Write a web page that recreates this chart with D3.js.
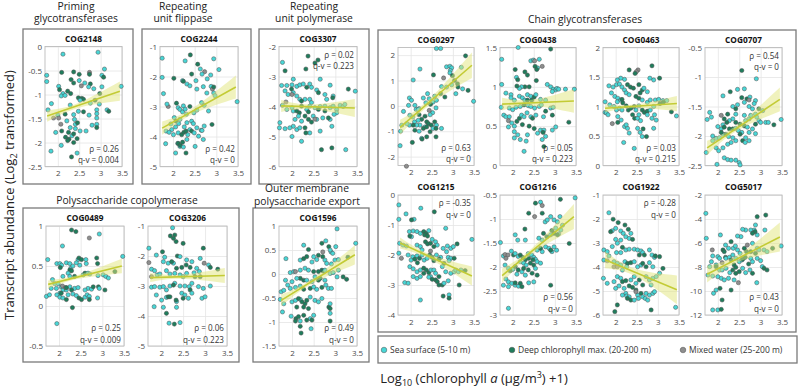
<!DOCTYPE html>
<html>
<head>
<meta charset="utf-8">
<script src="https://cdn.jsdelivr.net/npm/d3@7"></script>
<style>
  body { margin: 0; background: #fff; }
  text { font-family: "Open Sans", sans-serif; }
</style>
</head>
<body>
<div id="chart"></div>
<script>
// samples per panel: [log10(chl a + 1), log2 transcript abundance, layer]
// layer: 0 = sea surface, 1 = deep chlorophyll max., 2 = mixed water
const ptsCOG2148 = [[2.12,-0.16,0],[2.94,-0.12,0],[1.74,-0.6,0],[1.74,-0.73,0],[2.09,-0.54,1],[3.09,-0.47,0],[2.37,-0.53,1],[2.5,-0.58,1],[2.74,-0.54,2],[2.74,-0.58,1],[3.03,-0.6,0],[3.07,-0.64,1],[2.5,-0.71,0],[2.31,-0.69,1],[2.37,-0.76,1],[2.63,-0.76,0],[2.76,-0.78,1],[2.02,-0.83,0],[2.04,-0.9,1],[2.55,-0.82,2],[2.72,-0.84,0],[2.84,-0.88,0],[3.03,-0.84,0],[2.23,-0.93,1],[2.3,-0.98,1],[2.12,-0.98,0],[2.08,-1.03,0],[2.17,-1.02,0],[2.48,-1.07,1],[2.56,-1.08,1],[2.6,-1.1,1],[2.52,-1.12,0],[2.98,-0.98,1],[1.85,-1.19,0],[3.48,-0.83,0],[2.76,-1.18,0],[2.97,-1.2,0],[2.87,-1.12,1],[3.15,-1.32,0],[3.19,-1.35,1],[1.77,-1.32,0],[2.29,-1.22,0],[2.0,-1.43,0],[2.02,-1.49,2],[1.9,-1.49,2],[2.17,-1.41,1],[2.37,-1.42,0],[2.48,-1.35,0],[2.6,-1.36,1],[2.73,-1.43,0],[2.91,-1.32,0],[2.91,-1.4,0],[2.91,-1.49,0],[2.21,-1.55,0],[2.07,-1.62,2],[2.39,-1.52,0],[2.41,-1.62,0],[2.46,-1.59,1],[2.29,-1.69,0],[2.41,-1.71,0],[2.52,-1.76,0],[2.8,-1.64,0],[2.91,-1.62,0],[2.91,-1.69,1],[1.95,-1.79,0],[2.09,-1.76,1],[2.25,-1.79,1],[2.33,-1.86,0],[2.37,-1.82,1],[2.66,-1.76,0],[2.18,-1.89,1],[2.45,-1.92,1],[2.26,-1.93,1],[2.08,-2.06,0],[2.23,-1.96,1],[2.37,-2.0,1],[1.84,-2.18,0],[2.45,-2.22,0],[2.32,-2.3,1]];
const ptsCOG2244 = [[1.75,-1.39,0],[1.75,-2.03,0],[1.78,-2.57,0],[2.02,-2.06,1],[2.4,-1.28,1],[2.28,-1.48,0],[2.94,-1.41,0],[2.57,-1.59,1],[2.63,-1.75,0],[2.73,-1.84,2],[2.67,-1.92,0],[3.06,-1.77,0],[2.87,-1.95,0],[2.43,-1.92,1],[2.22,-2.14,0],[2.79,-2.08,0],[2.53,-2.14,0],[2.24,-2.16,1],[2.32,-2.25,0],[2.7,-2.34,0],[2.88,-2.33,0],[2.91,-2.42,2],[2.39,-2.31,0],[2.94,-2.35,1],[2.55,-2.42,0],[2.78,-2.55,0],[2.94,-2.55,0],[2.97,-2.64,0],[1.89,-3.0,2],[1.86,-2.92,0],[2.08,-2.89,1],[2.12,-3.04,0],[2.16,-3.1,0],[2.24,-2.98,0],[2.31,-3.26,0],[2.22,-3.18,0],[2.28,-3.09,0],[2.39,-3.0,1],[2.48,-3.21,0],[2.55,-3.12,0],[2.66,-2.87,0],[2.72,-2.96,0],[2.82,-3.15,0],[3.48,-2.84,0],[2.03,-3.37,0],[2.16,-3.43,0],[2.07,-3.49,1],[1.95,-3.58,0],[1.97,-3.77,0],[2.06,-3.68,0],[2.13,-3.57,0],[2.32,-3.54,0],[2.43,-3.49,0],[2.47,-3.57,0],[2.26,-3.68,0],[2.39,-3.77,0],[2.43,-3.82,1],[2.55,-3.71,0],[2.65,-3.79,0],[2.72,-3.65,0],[2.9,-3.6,1],[1.84,-3.82,0],[1.91,-3.86,0],[2.01,-3.94,0],[2.12,-3.88,0],[2.2,-3.94,1],[2.25,-3.86,1],[2.34,-3.94,0],[2.3,-3.82,1],[2.49,-3.88,0],[2.59,-3.99,0],[2.67,-3.8,0],[2.32,-4.1,0],[1.83,-4.24,0],[2.11,-4.23,0],[2.16,-4.33,0],[2.12,-4.23,1],[2.17,-4.3,1],[2.24,-4.35,0],[2.22,-4.19,1],[2.51,-4.33,0],[2.3,-4.55,1],[2.06,-4.55,0],[2.7,-4.1,0]];
const ptsCOG3307 = [[1.78,-2.53,0],[2.37,-2.32,1],[2.32,-2.75,1],[1.84,-2.81,1],[2.03,-3.09,0],[1.88,-3.3,0],[2.0,-3.28,0],[2.11,-3.33,0],[2.18,-3.28,0],[2.26,-3.25,0],[2.41,-3.25,0],[2.34,-3.36,1],[2.45,-3.36,0],[2.53,-2.55,1],[2.6,-2.45,1],[2.65,-3.09,0],[2.88,-3.29,0],[1.99,-3.42,1],[1.84,-3.48,0],[1.91,-3.6,0],[2.03,-3.54,0],[2.11,-3.65,0],[2.0,-3.6,2],[1.76,-3.3,0],[2.57,-3.45,0],[2.61,-3.54,1],[2.76,-3.6,0],[2.95,-3.65,0],[2.94,-3.71,1],[2.8,-3.76,0],[2.18,-3.76,0],[2.3,-3.76,0],[2.41,-3.76,0],[2.22,-3.82,1],[2.45,-3.87,0],[3.46,-3.49,0],[3.3,-3.42,1],[1.86,-3.85,2],[1.78,-3.96,0],[1.88,-4.1,0],[2.0,-4.04,0],[2.03,-4.15,0],[2.11,-4.15,1],[2.17,-4.21,1],[2.22,-3.99,1],[2.34,-4.1,0],[2.41,-3.99,0],[2.38,-4.18,1],[2.53,-4.04,0],[2.65,-4.0,0],[2.61,-4.1,1],[2.76,-3.99,0],[2.88,-4.04,0],[2.76,-4.15,1],[2.95,-3.99,0],[3.03,-4.1,0],[3.11,-3.96,0],[3.18,-4.0,0],[3.03,-4.21,0],[3.22,-3.93,0],[2.3,-4.32,1],[2.38,-4.43,1],[2.45,-4.52,1],[2.15,-4.32,0],[2.07,-4.43,0],[2.22,-4.49,0],[2.03,-4.66,0],[2.49,-4.32,0],[2.57,-4.43,0],[2.53,-4.42,2],[2.71,-4.38,0],[2.88,-4.43,0],[2.97,-4.26,0],[2.84,-4.38,1],[2.92,-4.66,0],[1.72,-4.54,0],[1.71,-4.71,0],[1.84,-4.74,0],[1.95,-4.71,0],[2.11,-4.77,0],[2.18,-4.71,0],[2.3,-4.71,1],[2.41,-4.88,0],[2.32,-4.88,1],[2.0,-5.0,0],[2.65,-4.82,0],[2.22,-5.16,0],[2.68,-5.44,1],[2.92,-5.38,1],[3.24,-5.44,0]];
const ptsCOG0489 = [[1.74,0.58,0],[2.08,0.75,0],[2.29,0.95,1],[2.39,0.93,1],[2.7,0.85,2],[2.93,0.9,0],[1.95,0.53,0],[2.02,0.53,0],[2.06,0.51,0],[2.17,0.54,0],[2.25,0.53,0],[2.03,0.48,1],[2.27,0.47,0],[2.32,0.5,0],[2.25,0.45,1],[2.29,0.44,1],[2.44,0.58,0],[2.4,0.54,0],[2.48,0.51,0],[2.46,0.6,1],[2.52,0.58,1],[2.62,0.58,0],[2.63,0.53,0],[2.21,0.41,0],[2.25,0.37,0],[2.36,0.37,1],[2.09,0.37,0],[2.56,0.39,0],[2.6,0.41,1],[2.67,0.41,0],[2.71,0.4,0],[2.87,0.6,1],[2.89,0.53,1],[2.9,0.38,0],[3.02,0.39,0],[3.08,0.37,0],[3.14,0.35,0],[3.29,0.43,1],[3.47,0.62,0],[1.85,0.33,0],[1.9,0.28,0],[1.98,0.28,0],[1.82,0.22,0],[1.94,0.22,0],[2.05,0.24,0],[2.09,0.2,0],[2.17,0.2,0],[2.02,0.16,0],[2.08,0.25,2],[2.15,0.23,2],[2.25,0.24,0],[2.36,0.22,0],[2.44,0.23,0],[2.17,0.23,1],[2.29,0.2,1],[2.67,0.22,0],[2.6,0.2,0],[2.75,0.21,0],[2.79,0.24,1],[2.91,0.24,1],[2.93,0.22,0],[3.06,0.2,1],[1.71,0.12,0],[1.78,0.14,0],[1.95,0.14,0],[2.02,0.11,0],[2.09,0.1,0],[2.21,0.14,0],[2.05,0.16,1],[2.17,0.08,1],[2.32,0.15,0],[2.4,0.13,0],[2.46,0.1,1],[2.52,0.08,1],[2.6,0.11,0],[2.65,0.14,0],[2.7,0.12,0],[2.7,0.08,1],[2.89,0.1,0],[2.31,-0.02,1],[1.95,-0.22,0]];
const ptsCOG3206 = [[1.72,-1.74,0],[2.26,-1.06,0],[2.21,-1.33,1],[2.31,-1.3,1],[2.28,-1.41,1],[2.34,-1.52,1],[2.03,-1.86,1],[2.5,-1.58,1],[1.89,-1.97,0],[2.08,-2.04,0],[1.72,-2.22,2],[2.37,-2.0,1],[2.43,-2.02,0],[2.05,-2.19,0],[2.16,-2.24,0],[2.28,-2.24,0],[2.24,-2.19,1],[2.58,-2.13,0],[2.7,-2.19,0],[2.57,-2.3,1],[2.66,-2.38,1],[2.89,-2.08,0],[2.96,-1.74,1],[3.08,-2.3,0],[3.12,-2.38,1],[2.81,-2.41,0],[2.87,-2.52,0],[2.75,-2.56,0],[2.98,-2.24,2],[1.78,-2.44,0],[1.85,-2.49,0],[1.91,-2.63,0],[1.97,-2.6,0],[1.78,-2.69,2],[2.12,-2.49,0],[2.2,-2.6,0],[2.31,-2.58,0],[2.35,-2.41,1],[2.47,-2.38,1],[2.43,-2.63,0],[2.5,-2.69,0],[2.58,-2.58,0],[2.77,-2.69,1],[2.89,-2.69,1],[3.29,-2.44,1],[1.78,-3.04,0],[1.85,-3.02,0],[1.97,-3.04,0],[2.05,-3.02,0],[2.12,-3.13,0],[2.2,-3.0,0],[2.31,-2.91,0],[2.43,-3.0,0],[2.28,-2.97,1],[2.54,-3.0,0],[2.64,-3.02,0],[2.7,-2.91,0],[2.66,-3.13,1],[2.85,-3.02,0],[2.96,-3.08,0],[3.12,-3.0,0],[1.89,-3.3,0],[2.01,-3.47,0],[2.12,-3.38,0],[2.16,-3.36,1],[2.2,-3.36,1],[2.35,-3.52,0],[2.35,-3.71,0],[2.34,-3.47,1],[2.47,-3.24,0],[2.54,-3.3,0],[2.5,-3.41,1],[2.62,-3.41,0],[2.7,-3.24,0],[2.93,-3.41,0],[3.0,-3.36,0],[1.84,-3.69,0],[2.05,-3.71,0],[2.12,-3.91,1],[2.18,-4.24,0],[2.3,-4.27,1],[2.43,-4.22,0]];
const ptsCOG1596 = [[3.04,0.94,0],[1.86,0.32,0],[2.27,0.6,0],[2.38,0.51,1],[2.69,0.64,1],[2.78,0.69,0],[2.71,0.46,2],[2.9,0.46,0],[2.94,0.43,0],[2.85,0.57,1],[3.01,0.57,0],[2.88,0.5,0],[3.47,0.64,0],[3.29,0.35,1],[2.19,0.29,0],[2.27,0.32,1],[2.34,0.36,1],[2.46,0.25,0],[2.5,0.36,0],[2.57,0.3,0],[2.61,0.39,1],[2.71,0.36,1],[2.76,0.29,0],[2.8,0.22,0],[2.91,0.21,0],[2.99,0.29,0],[3.07,0.3,0],[1.96,0.03,0],[2.04,0.05,0],[2.08,0.05,2],[2.19,0.08,0],[2.3,0.12,0],[2.38,0.08,0],[2.5,0.05,1],[2.61,0.05,1],[2.69,0.08,1],[2.72,0.06,1],[2.76,0.08,0],[2.88,0.01,0],[2.95,0.03,0],[3.07,0.08,0],[3.04,-0.06,0],[3.18,-0.06,1],[3.26,-0.11,1],[2.19,-0.09,1],[2.27,-0.13,1],[1.85,-0.13,0],[1.9,-0.23,0],[2.0,-0.16,0],[2.11,-0.09,0],[2.34,-0.13,0],[2.46,-0.16,0],[2.53,-0.06,0],[2.61,-0.13,1],[2.65,-0.09,1],[2.76,-0.13,0],[2.78,-0.23,0],[1.75,-0.37,0],[1.81,-0.34,0],[1.96,-0.3,0],[2.08,-0.28,0],[2.19,-0.25,0],[2.27,-0.32,1],[2.42,-0.3,1],[2.5,-0.27,0],[2.57,-0.32,0],[2.69,-0.28,1],[2.84,-0.3,0],[2.91,-0.3,0],[1.73,-0.53,0],[1.81,-0.62,0],[2.0,-0.58,0],[2.08,-0.55,0],[2.19,-0.53,0],[2.15,-0.51,1],[2.23,-0.58,1],[2.3,-0.62,1],[2.34,-0.55,1],[2.42,-0.48,0],[2.53,-0.55,0],[2.61,-0.58,0],[2.11,-0.69,1],[2.27,-0.69,1],[2.38,-0.72,1],[2.69,-0.51,0],[1.78,-0.79,0],[1.98,-0.88,0],[2.09,-0.93,1],[2.15,-0.89,1],[2.27,-0.86,1],[2.42,-0.93,0],[2.5,-0.86,0],[2.34,-0.96,1],[2.46,-0.96,1],[2.85,-0.69,1],[2.88,-0.72,1],[2.88,-0.62,0],[2.88,-0.82,0],[2.88,-0.98,1],[2.08,-0.98,1],[2.19,-0.98,0],[2.19,-1.09,1],[2.21,-1.23,1],[2.44,-1.14,0]];
const ptsCOG0297 = [[2.61,2.26,0],[2.71,2.26,0],[3.3,1.97,1],[2.22,1.45,0],[2.06,1.02,0],[2.54,1.22,1],[2.78,1.1,2],[2.85,1.54,0],[2.93,1.56,0],[2.97,1.5,0],[2.94,1.39,0],[2.93,1.3,0],[2.99,1.19,1],[3.2,1.52,0],[2.73,0.76,0],[2.85,0.74,0],[2.97,0.83,0],[3.04,1.0,1],[3.11,0.87,1],[3.12,0.74,1],[3.07,0.48,0],[3.36,0.61,1],[3.23,0.67,0],[3.49,0.18,0],[1.97,0.31,0],[2.02,0.22,0],[2.1,0.02,0],[2.2,-0.11,0],[2.13,-0.14,0],[2.18,-0.14,0],[2.3,0.31,0],[2.4,0.48,0],[2.36,0.12,0],[2.44,0.28,0],[2.53,0.15,0],[2.61,0.22,0],[2.57,0.38,0],[2.47,0.06,1],[2.71,0.48,1],[2.81,0.35,1],[2.6,-0.08,0],[2.52,-0.27,0],[2.46,-0.35,0],[2.44,-0.18,2],[1.95,0.02,0],[1.83,-0.22,0],[1.98,-0.37,0],[2.05,-0.44,0],[2.09,-0.63,0],[1.97,-0.76,0],[1.91,-0.7,0],[1.79,-0.76,0],[1.76,-1.0,0],[2.2,-0.35,1],[2.26,-0.53,1],[2.34,-0.41,1],[2.38,-0.63,1],[2.42,-0.7,1],[2.49,-0.76,1],[2.57,-0.63,1],[2.18,-0.57,0],[2.22,-0.76,0],[2.14,-0.76,0],[2.06,-0.76,1],[2.1,-0.96,1],[2.34,-0.83,0],[2.53,-0.89,0],[2.61,-0.76,0],[2.3,-0.89,1],[2.38,-0.83,1],[2.46,-1.02,1],[2.6,-0.89,1],[1.75,-1.57,0],[2.04,-1.44,1],[2.2,-1.0,0],[2.26,-1.28,0],[2.27,-1.31,1],[2.38,-1.22,1],[2.6,-1.22,1],[2.73,-0.89,0],[1.9,-2.38,2]];
const ptsCOG0438 = [[1.74,1.35,0],[2.13,1.5,0],[2.9,1.48,1],[2.43,1.33,0],[2.49,1.34,0],[2.52,1.33,2],[2.63,1.35,0],[2.06,1.22,1],[2.29,1.19,1],[2.35,1.15,1],[2.59,1.24,0],[2.53,1.26,1],[2.57,1.22,1],[2.7,1.26,2],[2.09,1.12,0],[2.12,1.09,1],[2.56,1.08,1],[2.39,1.0,1],[2.29,1.0,1],[2.21,1.0,0],[2.16,0.98,0],[2.1,1.01,1],[2.82,1.03,0],[2.9,1.0,0],[2.96,0.97,0],[3.02,0.96,0],[2.94,0.94,0],[3.05,0.98,0],[3.09,0.97,0],[3.25,0.97,0],[1.74,1.03,0],[1.84,0.92,0],[1.96,0.9,0],[1.96,0.86,0],[2.04,0.83,0],[2.16,0.88,0],[2.23,0.86,0],[2.29,0.83,0],[2.35,0.9,0],[2.43,0.88,0],[2.45,0.83,1],[2.51,0.87,1],[2.55,0.9,0],[2.66,0.84,0],[2.78,0.83,0],[3.46,0.97,0],[1.73,0.74,0],[1.92,0.73,0],[2.0,0.71,0],[2.08,0.74,0],[2.18,0.75,0],[2.27,0.77,1],[2.35,0.83,1],[2.37,0.76,0],[2.43,0.75,0],[2.52,0.73,0],[2.63,0.75,0],[2.68,0.77,0],[1.79,0.64,0],[1.84,0.62,0],[1.92,0.62,0],[1.9,0.57,2],[1.98,0.54,0],[2.04,0.5,0],[2.1,0.56,1],[2.16,0.6,1],[2.21,0.64,0],[2.27,0.62,0],[2.34,0.67,0],[2.43,0.62,0],[2.47,0.6,1],[2.55,0.64,0],[2.73,0.62,0],[2.78,0.69,1],[2.94,0.64,1],[2.9,0.73,0],[2.96,0.74,0],[2.04,0.43,0],[2.12,0.39,0],[1.9,0.49,0],[2.23,0.52,1],[2.39,0.5,1],[2.51,0.47,1],[2.35,0.39,0],[2.59,0.41,0],[2.66,0.45,0],[2.74,0.45,0],[2.78,0.37,0],[2.72,0.42,1],[2.94,0.45,0],[3.02,0.49,0],[3.33,0.55,1],[2.04,0.35,0],[2.18,0.33,0],[2.32,0.31,0],[2.7,0.33,0],[2.74,0.24,1],[2.27,0.18,0]];
const ptsCOG0463 = [[2.86,1.69,1],[2.32,1.62,1],[2.53,1.62,2],[2.49,1.59,2],[2.46,1.56,1],[2.21,1.46,0],[2.12,1.48,0],[2.04,1.45,0],[2.9,1.45,0],[2.81,1.48,0],[3.04,1.48,1],[1.84,1.35,0],[1.94,1.33,0],[2.02,1.37,0],[2.09,1.38,0],[2.15,1.33,0],[2.28,1.37,1],[2.35,1.33,1],[2.42,1.31,1],[2.21,1.28,0],[2.25,1.23,0],[2.32,1.2,0],[2.55,1.37,1],[2.63,1.28,1],[2.58,1.23,1],[2.67,1.31,0],[2.75,1.25,0],[2.48,1.17,1],[2.55,1.14,1],[1.9,1.23,0],[1.98,1.17,0],[2.05,1.14,0],[2.04,1.08,0],[2.12,1.11,0],[2.15,1.12,1],[2.17,1.06,1],[2.63,1.11,0],[2.75,1.07,0],[2.82,1.11,0],[2.94,1.11,0],[3.02,1.12,0],[3.12,1.1,0],[3.21,1.1,0],[3.05,1.05,1],[3.13,1.07,1],[1.75,1.08,0],[1.86,1.03,0],[1.75,0.9,0],[1.78,0.89,0],[1.82,0.86,0],[1.96,1.0,0],[2.02,0.94,0],[2.09,0.97,0],[2.15,0.94,0],[2.25,1.01,1],[2.3,0.94,1],[2.36,0.97,1],[2.44,1.0,1],[2.48,0.94,0],[2.55,1.01,0],[2.63,0.94,1],[2.68,0.9,1],[2.75,0.92,1],[2.82,0.94,0],[2.9,1.0,0],[3.32,0.91,1],[3.44,0.84,0],[2.05,0.83,0],[2.13,0.77,0],[2.05,0.73,1],[1.92,0.71,2],[2.21,0.66,0],[2.28,0.63,0],[2.25,0.69,0],[2.4,0.86,1],[2.45,0.8,1],[2.52,0.8,0],[2.55,0.86,0],[2.59,0.76,0],[2.75,0.86,0],[2.86,0.8,0],[2.92,0.86,0],[2.96,0.77,0],[2.32,0.55,0],[2.52,0.63,0],[2.65,0.62,1],[2.58,0.56,0],[2.63,0.49,0],[2.73,0.49,1],[2.9,0.63,0],[2.19,0.39,0],[2.44,0.29,0]];
const ptsCOG0707 = [[2.56,-0.89,1],[2.9,-1.03,0],[2.29,-1.25,1],[2.46,-1.21,0],[2.62,-1.2,0],[2.12,-1.32,0],[2.56,-1.35,1],[2.68,-1.37,1],[2.75,-1.34,0],[2.73,-1.39,2],[2.88,-1.4,0],[2.85,-1.45,0],[2.62,-1.43,0],[2.46,-1.47,0],[2.35,-1.5,0],[2.73,-1.5,0],[2.81,-1.54,0],[2.96,-1.54,1],[2.42,-1.54,1],[2.23,-1.63,1],[2.08,-1.65,2],[1.81,-1.6,0],[1.85,-1.68,0],[3.05,-1.57,0],[2.35,-1.71,0],[2.42,-1.63,0],[2.27,-1.74,0],[2.15,-1.71,1],[2.21,-1.77,1],[2.42,-1.77,1],[2.52,-1.8,1],[2.62,-1.65,0],[2.65,-1.74,0],[2.73,-1.71,0],[2.77,-1.65,0],[2.88,-1.63,0],[2.91,-1.68,0],[2.96,-1.74,0],[2.88,-1.8,1],[3.0,-1.77,0],[3.12,-1.77,0],[3.18,-1.77,0],[3.31,-1.81,1],[3.48,-1.72,0],[1.75,-1.72,0],[2.0,-1.84,0],[2.08,-1.88,0],[2.12,-1.81,0],[2.15,-1.85,1],[2.27,-1.88,1],[2.35,-1.88,1],[2.42,-1.87,0],[2.48,-1.91,0],[2.56,-1.94,0],[2.62,-1.83,1],[2.69,-1.85,0],[2.73,-1.94,0],[2.81,-1.88,0],[2.88,-1.96,0],[1.88,-2.0,0],[1.96,-2.04,0],[2.04,-2.03,0],[2.12,-1.97,0],[2.08,-1.94,1],[2.19,-1.97,1],[2.25,-2.01,0],[2.35,-2.03,0],[2.42,-2.08,0],[2.31,-2.11,0],[2.23,-2.14,0],[2.52,-1.97,1],[2.58,-2.08,1],[2.65,-2.03,0],[2.73,-2.08,0],[2.64,-2.11,0],[1.73,-2.28,0],[1.88,-2.08,0],[1.96,-2.2,0],[2.02,-2.25,0],[2.12,-2.2,0],[2.15,-2.37,0],[2.23,-2.4,0],[2.31,-2.41,0],[1.98,-2.48,0],[2.42,-2.41,0],[2.5,-2.45,0],[2.52,-2.49,0]];
const ptsCOG1215 = [[1.72,-0.33,0],[1.72,-0.81,0],[1.89,-0.63,0],[2.08,-0.81,0],[2.02,-0.83,1],[2.24,-0.44,0],[2.56,-0.56,1],[2.83,-1.11,0],[3.45,-1.48,0],[1.97,-1.22,0],[2.06,-1.2,0],[2.15,-1.22,0],[2.23,-1.28,0],[2.31,-1.22,1],[2.37,-1.28,1],[2.33,-1.33,1],[2.43,-1.19,0],[2.4,-1.37,1],[2.02,-1.39,0],[1.98,-1.37,1],[1.74,-1.61,0],[1.82,-1.67,0],[1.9,-1.7,0],[2.15,-1.67,0],[2.23,-1.72,0],[2.27,-1.83,0],[2.35,-1.56,1],[2.4,-1.63,1],[2.47,-1.61,1],[2.51,-1.48,0],[2.59,-1.56,0],[2.63,-1.67,0],[2.55,-1.72,1],[2.77,-1.78,0],[2.87,-1.7,0],[2.85,-1.89,0],[2.95,-1.78,0],[3.1,-1.63,1],[3.01,-1.72,0],[1.72,-1.94,0],[1.78,-2.11,2],[1.94,-2.0,0],[2.05,-2.06,0],[2.15,-2.03,0],[2.01,-2.17,0],[2.1,-2.14,1],[2.21,-2.11,1],[2.16,-2.26,1],[2.27,-2.0,0],[2.32,-2.17,0],[2.39,-2.11,0],[2.47,-1.87,2],[2.45,-2.0,1],[2.51,-2.08,1],[2.55,-2.19,1],[2.61,-2.0,0],[2.71,-2.08,0],[2.67,-2.14,1],[2.89,-2.08,0],[2.95,-2.11,0],[2.91,-2.19,0],[2.79,-2.28,1],[3.03,-2.11,1],[1.98,-2.39,0],[2.06,-2.46,0],[2.15,-2.56,0],[2.23,-2.5,0],[2.31,-2.44,1],[2.37,-2.5,1],[2.43,-2.59,1],[2.31,-2.61,1],[2.48,-2.5,0],[2.55,-2.5,0],[2.59,-2.61,0],[2.47,-2.72,0],[2.43,-2.74,0],[2.51,-2.81,1],[2.59,-2.83,1],[2.63,-2.89,1],[2.67,-2.72,1],[2.75,-2.39,0],[2.83,-2.56,0],[2.95,-2.61,0],[3.03,-2.56,0],[3.07,-2.5,0],[3.13,-2.56,0],[3.19,-2.5,0],[3.29,-2.52,1],[1.86,-2.92,0],[1.94,-2.94,0],[2.06,-2.72,0],[2.15,-2.78,0],[2.23,-2.72,0],[2.67,-3.0,1],[2.75,-3.0,1],[2.79,-2.94,0],[2.89,-2.86,0],[2.77,-3.37,1],[2.91,-3.33,0],[2.91,-3.44,1],[3.15,-3.0,1],[2.23,-3.5,0]];
const ptsCOG1216 = [[3.48,-0.56,0],[3.13,-0.59,1],[2.54,-0.67,1],[2.66,-0.65,0],[2.7,-0.72,2],[2.38,-0.88,1],[2.52,-0.95,2],[2.7,-0.88,1],[2.9,-0.95,0],[2.98,-1.02,0],[3.06,-1.06,0],[3.12,-0.95,0],[3.18,-1.13,0],[2.77,-1.06,0],[2.82,-1.02,0],[2.93,-1.24,1],[3.02,-1.19,0],[3.14,-1.23,0],[3.09,-1.31,0],[3.06,-1.33,1],[2.98,-1.3,1],[2.9,-1.33,0],[3.34,-1.51,1],[2.06,-1.33,0],[2.12,-1.44,0],[2.3,-1.44,0],[2.29,-1.21,1],[2.62,-1.4,0],[2.7,-1.44,0],[2.73,-1.3,1],[2.81,-1.37,1],[2.78,-1.58,0],[2.86,-1.61,0],[2.93,-1.68,0],[2.58,-1.65,0],[2.7,-1.68,0],[2.66,-1.61,1],[2.98,-1.58,0],[3.04,-1.65,0],[2.9,-1.65,1],[1.71,-1.49,0],[1.78,-1.77,0],[1.82,-1.74,2],[1.89,-1.75,2],[1.84,-1.82,2],[2.02,-1.75,1],[1.97,-1.67,0],[2.06,-1.72,0],[2.13,-1.78,0],[2.18,-1.75,1],[2.24,-1.8,1],[2.3,-1.85,1],[2.37,-1.72,0],[2.45,-1.75,0],[2.5,-1.8,0],[2.54,-1.84,0],[2.38,-1.82,1],[2.48,-1.85,1],[2.18,-1.89,0],[2.26,-1.92,0],[2.32,-1.96,0],[2.42,-1.92,1],[2.5,-1.96,1],[2.58,-1.89,0],[2.66,-1.92,0],[1.82,-1.96,0],[1.9,-2.03,0],[2.0,-2.05,0],[1.94,-2.08,1],[2.06,-1.99,1],[2.13,-2.06,1],[2.1,-2.15,0],[2.22,-2.1,0],[2.3,-2.17,0],[2.26,-2.03,1],[2.37,-2.06,1],[2.46,-2.13,1],[2.54,-2.03,0],[2.58,-2.17,1],[1.84,-2.25,0],[1.9,-2.31,0],[1.98,-2.34,0],[2.06,-2.38,0],[2.14,-2.4,0],[2.06,-2.33,1],[2.18,-2.34,1],[2.22,-2.41,1],[2.38,-2.33,0],[2.5,-2.31,0],[2.9,-2.38,1],[1.9,-2.41,0],[1.78,-2.38,0],[1.9,-2.86,0]];
const ptsCOG1922 = [[1.84,-1.74,0],[1.94,-2.01,1],[2.06,-2.15,1],[2.22,-2.25,1],[2.0,-2.39,0],[1.92,-2.49,0],[2.12,-2.5,0],[1.88,-2.53,1],[2.18,-2.6,0],[2.36,-2.6,0],[2.3,-2.43,1],[2.24,-2.74,0],[2.32,-2.81,0],[2.4,-2.85,1],[2.0,-2.85,0],[2.12,-2.88,0],[2.04,-3.01,0],[1.72,-3.29,0],[1.8,-3.36,0],[1.92,-3.15,0],[1.84,-3.54,0],[2.02,-3.4,0],[2.12,-3.4,0],[2.24,-3.29,0],[2.32,-3.26,0],[2.16,-3.18,1],[2.44,-3.26,0],[2.52,-3.29,0],[2.6,-3.33,0],[2.64,-3.4,0],[2.56,-3.5,1],[2.68,-3.5,1],[2.8,-3.29,0],[2.86,-3.5,0],[2.92,-3.6,0],[3.04,-3.57,1],[1.72,-3.71,0],[1.8,-3.74,2],[1.96,-3.78,0],[2.04,-3.85,0],[2.12,-3.92,0],[2.22,-3.78,0],[2.28,-3.85,1],[2.36,-3.82,1],[2.44,-3.78,0],[2.52,-3.99,0],[2.6,-3.92,0],[2.64,-3.85,1],[2.72,-3.99,1],[2.8,-3.82,0],[2.88,-3.99,0],[1.96,-3.99,2],[2.04,-3.99,2],[2.16,-4.13,0],[2.26,-3.99,0],[3.12,-4.06,1],[2.94,-3.54,1],[1.71,-4.47,0],[1.8,-4.68,0],[1.96,-4.61,0],[2.04,-4.4,0],[2.12,-4.47,0],[2.16,-4.61,1],[2.24,-4.57,1],[2.32,-4.79,1],[2.36,-4.54,0],[2.44,-4.4,0],[2.48,-4.68,0],[2.56,-4.54,1],[2.64,-4.75,1],[2.72,-4.4,0],[2.8,-4.54,0],[2.84,-4.75,0],[2.88,-4.47,0],[2.96,-4.4,0],[3.04,-4.26,0],[2.0,-4.89,0],[2.08,-4.79,0],[2.2,-4.89,0],[2.24,-5.1,0],[2.4,-4.85,1],[2.48,-4.96,1],[2.6,-5.1,1],[2.52,-5.17,0],[2.64,-5.24,0],[2.72,-5.1,0],[2.8,-5.17,0],[2.88,-5.1,0],[2.48,-5.03,2],[2.16,-5.17,0],[2.26,-5.21,0],[2.32,-5.24,0],[2.28,-5.31,1],[2.36,-5.38,1],[2.44,-5.38,0],[2.54,-5.31,0],[2.7,-5.31,0],[2.76,-5.38,0],[2.92,-5.03,0],[2.04,-5.58,1],[1.98,-5.86,1],[2.84,-5.79,1],[3.42,-5.68,0]];
const ptsCOG5017 = [[1.72,-3.53,0],[1.73,-5.61,0],[3.12,-3.67,1],[2.92,-3.81,1],[2.88,-4.5,0],[2.85,-4.92,0],[2.92,-5.33,0],[3.1,-4.92,0],[2.77,-4.92,0],[2.65,-4.92,0],[2.58,-4.86,0],[2.87,-5.06,1],[2.81,-5.19,1],[2.54,-5.47,0],[2.46,-5.42,0],[2.31,-5.89,1],[2.06,-5.33,0],[2.18,-6.17,0],[2.25,-6.44,0],[1.87,-6.58,2],[2.36,-6.44,0],[2.41,-6.25,0],[2.46,-6.58,0],[2.52,-6.86,0],[2.62,-6.44,1],[2.67,-6.72,1],[2.77,-6.72,1],[2.69,-6.17,2],[2.81,-6.03,0],[2.92,-6.44,0],[2.96,-6.58,0],[2.88,-6.86,1],[3.08,-6.58,0],[3.15,-6.72,0],[3.28,-6.44,1],[3.48,-6.25,0],[1.88,-7.08,0],[2.0,-7.14,0],[2.04,-7.28,0],[2.1,-7.64,2],[2.12,-6.58,1],[2.15,-6.72,1],[2.18,-7.19,1],[2.19,-7.28,0],[2.27,-7.19,0],[2.35,-7.0,0],[2.31,-7.42,1],[2.38,-7.83,1],[2.42,-8.03,1],[2.42,-7.28,0],[2.5,-7.56,0],[2.56,-7.42,0],[2.58,-7.36,1],[2.64,-7.19,1],[2.72,-7.75,1],[2.77,-7.28,0],[2.81,-7.56,0],[2.92,-7.28,0],[3.0,-7.47,0],[3.04,-7.97,0],[3.08,-8.11,1],[1.85,-7.56,0],[1.81,-7.97,0],[1.96,-7.83,0],[2.04,-8.25,0],[1.96,-7.97,1],[2.1,-8.25,0],[2.19,-8.11,0],[2.28,-8.47,0],[2.35,-8.25,1],[2.42,-8.53,1],[2.5,-8.39,1],[2.58,-8.11,0],[2.65,-8.47,0],[2.75,-8.25,0],[2.81,-8.53,1],[1.77,-8.67,0],[1.88,-8.75,0],[2.0,-8.81,0],[2.08,-8.94,0],[2.15,-9.08,0],[2.25,-8.94,0],[2.38,-9.08,0],[2.48,-9.31,2],[2.91,-9.31,0],[3.15,-8.25,1],[2.05,-9.78,1],[1.96,-9.92,0],[1.9,-10.19,0],[2.31,-9.92,1],[2.1,-10.75,1],[1.88,-11.58,0],[2.0,-11.58,0],[2.08,-11.53,1]];

const cogNames = ["COG2148","COG2244","COG3307","COG0297","COG0438","COG0463","COG0707",
                  "COG0489","COG3206","COG1596","COG1215","COG1216","COG1922","COG5017"];
const cogPoints = {COG2148: ptsCOG2148, COG2244: ptsCOG2244, COG3307: ptsCOG3307,
  COG0297: ptsCOG0297, COG0438: ptsCOG0438, COG0463: ptsCOG0463, COG0707: ptsCOG0707,
  COG0489: ptsCOG0489, COG3206: ptsCOG3206, COG1596: ptsCOG1596, COG1215: ptsCOG1215,
  COG1216: ptsCOG1216, COG1922: ptsCOG1922, COG5017: ptsCOG5017};

const xDomain = [1.7, 3.5];
const xTicks = [2, 2.5, 3, 3.5];
const yDomains = {COG2148:[-2.5,0], COG2244:[-5,-1], COG3307:[-6,-2], COG0297:[-2.35,2.3],
  COG0438:[0,1.5], COG0463:[0,2], COG0707:[-2.5,-0.5], COG0489:[-0.5,1], COG3206:[-5,-1],
  COG1596:[-1.5,1], COG1215:[-4,0], COG1216:[-3,-0.5], COG1922:[-6,-1], COG5017:[-12,-2]};
const yTicks = {COG2148:[0,-0.5,-1,-1.5,-2,-2.5], COG2244:[-1,-2,-3,-4,-5], COG3307:[-2,-3,-4,-5,-6],
  COG0297:[2,1,0,-1,-2], COG0438:[1.5,1,0.5,0], COG0463:[2,1.5,1,0.5,0], COG0707:[-0.5,-1,-1.5,-2,-2.5],
  COG0489:[1,0.5,0,-0.5], COG3206:[-1,-2,-3,-4,-5], COG1596:[1,0.5,0,-0.5,-1,-1.5],
  COG1215:[0,-1,-2,-3,-4], COG1216:[-0.5,-1,-1.5,-2,-2.5,-3], COG1922:[-1,-2,-3,-4,-5,-6],
  COG5017:[-2,-4,-6,-8,-10,-12]};

// fitted line: y at the two ends of fitX; band half-widths at bandX
const fitX = [1.75, 3.45];
const fitEnds = {COG2148:[-1.45,-0.93], COG2244:[-3.72,-2.35], COG3307:[-3.98,-4.05],
  COG0297:[-0.85,1.6], COG0438:[0.78,0.82], COG0463:[0.97,1.05], COG0707:[-2.2,-1.38],
  COG0489:[0.27,0.5], COG3206:[-2.72,-2.65], COG1596:[-0.55,0.4], COG1215:[-1.6,-2.7],
  COG1216:[-2.18,-0.95], COG1922:[-3.7,-4.95], COG5017:[-8.6,-5.5]};
const bandX = [1.75, 2.45, 3.45];
const bandHalf = {COG2148:[0.12,0.05,0.2], COG2244:[0.22,0.1,0.38], COG3307:[0.2,0.08,0.3],
  COG0297:[0.3,0.12,0.5], COG0438:[0.08,0.04,0.15], COG0463:[0.07,0.03,0.13], COG0707:[0.12,0.05,0.2],
  COG0489:[0.05,0.025,0.09], COG3206:[0.15,0.07,0.25], COG1596:[0.12,0.05,0.2], COG1215:[0.18,0.08,0.32],
  COG1216:[0.15,0.06,0.26], COG1922:[0.35,0.15,0.6], COG5017:[0.7,0.3,1.2]};

const rhoText = {COG2148:"0.26", COG2244:"0.42", COG3307:"0.02", COG0297:"0.63", COG0438:"0.05",
  COG0463:"0.03", COG0707:"0.54", COG0489:"0.25", COG3206:"0.06", COG1596:"0.49", COG1215:"-0.35",
  COG1216:"0.56", COG1922:"-0.28", COG5017:"0.43"};
const qvText = {COG2148:"0.004", COG2244:"0", COG3307:"0.223", COG0297:"0", COG0438:"0.223",
  COG0463:"0.215", COG0707:"0", COG0489:"0.009", COG3206:"0.223", COG1596:"0", COG1215:"0",
  COG1216:"0", COG1922:"0", COG5017:"0"};

const groupTitles = [["Priming","glycotransferases"],["Repeating","unit flippase"],["Repeating","unit polymerase"],
  ["Chain glycotransferases"],["Polysaccharide copolymerase"],["Outer membrane","polysaccharide export"]];
const layerNames = ["Sea surface (5-10 m)","Deep chlorophyll max. (20-200 m)","Mixed water (25-200 m)"];

// ---- layout ----
const width = 800, height = 389;
const layerColors = ["#48d6d6", "#1f7d5c", "#8e8e8e"];
const chainX = [398, 500, 603, 705];
const plotBox = {
  COG2148:{x:45, y:46.5,w:77,h:120,note:"bottom"},
  COG2244:{x:160,y:46.5,w:78,h:120,note:"bottom"},
  COG3307:{x:279,y:46.5,w:78,h:120,note:"top"},
  COG0297:{x:chainX[0],y:47.5,w:76,h:118,note:"bottom"},
  COG0438:{x:chainX[1],y:47.5,w:76,h:118,note:"bottom"},
  COG0463:{x:chainX[2],y:47.5,w:76,h:118,note:"bottom"},
  COG0707:{x:chainX[3],y:47.5,w:77,h:118,note:"top"},
  COG0489:{x:46, y:226,w:78,h:120,note:"bottom"},
  COG3206:{x:148,y:226,w:79,h:120,note:"bottom"},
  COG1596:{x:279,y:226,w:78,h:120,note:"bottom"},
  COG1215:{x:chainX[0],y:195,w:76,h:120,note:"top"},
  COG1216:{x:chainX[1],y:195,w:76,h:120,note:"bottom"},
  COG1922:{x:chainX[2],y:195,w:76,h:120,note:"top"},
  COG5017:{x:chainX[3],y:195,w:77,h:120,note:"bottom"}
};
const groupBoxes = [{x:23,y:29,w:110,h:155},{x:142,y:29,w:109,h:155},{x:259,y:29,w:110,h:155},
  {x:378,y:30,w:418,h:302},{x:23,y:208,w:216,h:154},{x:253,y:208,w:116,h:154}];
const groupTitlePos = [{x:76,y:9.5},{x:183,y:9.5},{x:314,y:9.5},{x:585,y:22.5},{x:127,y:204},{x:307,y:192}];
const legendX = [384, 512, 683];

const svg = d3.select("#chart").append("svg")
  .attr("width", width).attr("height", height)
  .attr("viewBox", [0, 0, width, height]);

// group boxes + titles
svg.selectAll("rect.group").data(groupBoxes).enter().append("rect")
  .attr("x", d => d.x).attr("y", d => d.y).attr("width", d => d.w).attr("height", d => d.h)
  .attr("fill", "none").attr("stroke", "#7a7a7a").attr("stroke-width", 1.3);

groupTitles.forEach((lines, i) => {
  const t = svg.append("text").attr("x", groupTitlePos[i].x).attr("y", groupTitlePos[i].y)
    .attr("text-anchor", "middle").attr("font-size", 10.3).attr("fill", "#222");
  lines.forEach((ln, j) => t.append("tspan").attr("x", groupTitlePos[i].x).attr("dy", j ? 12.8 : 0).text(ln));
});

// panels
cogNames.forEach(name => {
  const b = plotBox[name];
  const x = d3.scaleLinear().domain(xDomain).range([b.x, b.x + b.w]);
  const y = d3.scaleLinear().domain(yDomains[name]).range([b.y + b.h, b.y]);
  const fit = d3.scaleLinear().domain(fitX).range(fitEnds[name]);
  const g = svg.append("g");

  g.append("rect").attr("x", b.x).attr("y", b.y).attr("width", b.w).attr("height", b.h).attr("fill", "#fff");

  const xAxis = g.append("g")
    .attr("transform", `translate(0,${b.y + b.h})`)
    .call(d3.axisBottom(x).tickValues(xTicks).tickSizeInner(-b.h).tickSizeOuter(0).tickPadding(4).tickFormat(d => String(d)));
  const yAxis = g.append("g")
    .attr("transform", `translate(${b.x},0)`)
    .call(d3.axisLeft(y).tickValues(yTicks[name]).tickSizeInner(-b.w).tickSizeOuter(0).tickPadding(3).tickFormat(d => String(d)));
  [xAxis, yAxis].forEach(a => {
    a.select(".domain").remove();
    a.selectAll("line").attr("stroke", "#e4e4e4").attr("stroke-width", 0.8);
    a.selectAll("text").attr("fill", "#4a4a4a").attr("font-size", 8)
      .style("font-family", "'Open Sans', sans-serif");
  });

  g.append("rect").attr("x", b.x).attr("y", b.y).attr("width", b.w).attr("height", b.h)
    .attr("fill", "none").attr("stroke", "#bcbcbc").attr("stroke-width", 0.9);

  g.append("g").selectAll("circle").data(cogPoints[name]).enter().append("circle")
    .attr("cx", d => x(d[0])).attr("cy", d => y(d[1])).attr("r", 2.1)
    .attr("fill", d => layerColors[d[2]]).attr("stroke", "#4d4d4d").attr("stroke-width", 0.5);

  const band = d3.area().curve(d3.curveNatural)
    .x(d => x(d[0])).y0(d => y(fit(d[0]) - d[1])).y1(d => y(fit(d[0]) + d[1]));
  g.append("path").attr("d", band(bandX.map((bx, i) => [bx, bandHalf[name][i]])))
    .attr("fill", "#e2e67c").attr("fill-opacity", 0.5);

  g.append("path").attr("d", d3.line().x(d => x(d)).y(d => y(fit(d)))(fitX))
    .attr("stroke", "#c3cb35").attr("stroke-width", 1.6).attr("fill", "none");

  g.append("text").attr("x", b.x + b.w / 2).attr("y", b.y - 5).attr("text-anchor", "middle")
    .attr("font-size", 8.3).attr("font-weight", "bold").attr("fill", "#111").text(name);

  const ny = b.note === "top" ? [b.y + 11, b.y + 22.5] : [b.y + b.h - 15, b.y + b.h - 3.5];
  g.append("text").attr("x", b.x + b.w - 3).attr("y", ny[0]).attr("text-anchor", "end")
    .attr("font-size", 8.1).attr("fill", "#333").text("ρ = " + rhoText[name]);
  g.append("text").attr("x", b.x + b.w - 3).attr("y", ny[1]).attr("text-anchor", "end")
    .attr("font-size", 8.1).attr("fill", "#333").text("q-v = " + qvText[name]);
});

// legend
svg.append("rect").attr("x", 378).attr("y", 336).attr("width", 419).attr("height", 27)
  .attr("fill", "none").attr("stroke", "#7a7a7a").attr("stroke-width", 1.3);
layerNames.forEach((ln, i) => {
  svg.append("circle").attr("cx", legendX[i]).attr("cy", 350).attr("r", 2.8)
    .attr("fill", layerColors[i]).attr("stroke", "#4d4d4d").attr("stroke-width", 0.5);
  svg.append("text").attr("x", legendX[i] + 6).attr("y", 353).attr("font-size", 8.5)
    .attr("fill", "#333").text(ln);
});

// axis titles
const yl = svg.append("text").attr("transform", "translate(14,195) rotate(-90)")
  .attr("text-anchor", "middle").attr("font-size", 13).attr("fill", "#222");
yl.append("tspan").text("Transcript abundance (Log");
yl.append("tspan").attr("font-size", 9).attr("dy", 3).text("2");
yl.append("tspan").attr("dy", -3).text(" transformed)");

const xl = svg.append("text").attr("x", 474).attr("y", 383)
  .attr("text-anchor", "middle").attr("font-size", 13).attr("fill", "#222");
xl.append("tspan").text("Log");
xl.append("tspan").attr("font-size", 9).attr("dy", 3).text("10");
xl.append("tspan").attr("dy", -3).text(" (chlorophyll ");
xl.append("tspan").attr("font-style", "italic").text("a");
xl.append("tspan").text(" (µg/m");
xl.append("tspan").attr("font-size", 9).attr("dy", -5).text("3");
xl.append("tspan").attr("dy", 5).text(") +1)");
</script>
</body>
</html>
